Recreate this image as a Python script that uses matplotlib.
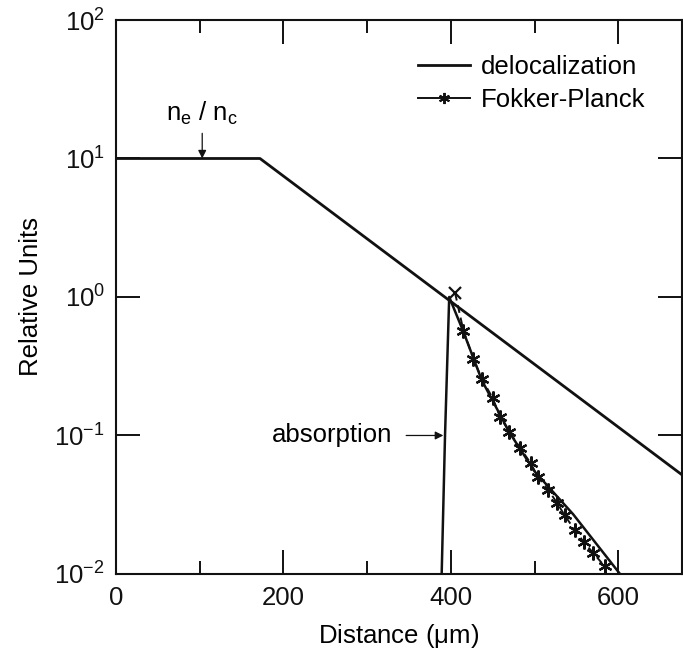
import numpy as np
import matplotlib

matplotlib.use("Agg")
import matplotlib.pyplot as plt
from matplotlib.lines import Line2D
from matplotlib.ticker import FixedLocator, NullLocator, LogFormatterSciNotation

plt.rcParams.update({
    "font.family": ["Liberation Sans", "DejaVu Sans"],
    "font.size": 18.5,
    "mathtext.fontset": "custom",
    "mathtext.rm": "Liberation Sans",
    "mathtext.it": "Liberation Sans:italic",
    "mathtext.default": "regular",
})

INK = "#111111"

# delocalization: flat n_e/n_c then exponential fall-off
deloc_x = [0, 172, 676]
deloc_y = [10.0, 10.0, 0.052]

# absorption profile (solid): sharp rise at the critical surface, then decay
absorb_x = [389, 393, 398, 415, 437, 470, 500, 546, 602]
absorb_y = [0.01, 0.1, 1.0, 0.56, 0.25, 0.105, 0.055, 0.027, 0.01]

# Fokker-Planck points
fp_x = [405, 415, 427, 437, 450, 459, 470, 483, 495.5, 504, 516.5, 526.5,
        535.7, 547.7, 558.4, 570.3, 583.5]
fp_y = [1.07, 0.571, 0.356, 0.256, 0.186, 0.135, 0.106, 0.0807, 0.0629,
        0.0499, 0.0404, 0.0327, 0.0267, 0.0208, 0.0171, 0.0141, 0.0114]

x_major = [0, 200, 400, 600]
x_minor = [100, 300, 500]
y_major = [1e-2, 1e-1, 1e0, 1e1, 1e2]

star = (6, 2, 0)

fig = plt.figure(figsize=(6.83, 6.58), dpi=100)
ax = fig.add_axes([0.1698, 0.1277, 0.9985 - 0.1698, 0.9696 - 0.1277])

ax.plot(deloc_x, deloc_y, color=INK, lw=2.0)
ax.plot(absorb_x, absorb_y, color=INK, lw=1.8)
ax.plot(fp_x, fp_y, color=INK, lw=1.4, ls=(0, (4, 2.5)))
ax.plot(fp_x[1:], fp_y[1:], ls="none", marker=star, ms=10, mew=1.6, color=INK)
ax.plot(fp_x[:1], fp_y[:1], ls="none", marker="x", ms=8, mew=1.6, color=INK)

ax.set_yscale("log")
ax.set_xlim(0, 676)
ax.set_ylim(1e-2, 1e2)

ax.xaxis.set_major_locator(FixedLocator(x_major))
ax.xaxis.set_minor_locator(FixedLocator(x_minor))
ax.yaxis.set_major_locator(FixedLocator(y_major))
ax.yaxis.set_minor_locator(NullLocator())
ax.yaxis.set_major_formatter(LogFormatterSciNotation())

ax.tick_params(which="both", direction="in", top=True, right=True,
               colors=INK, width=1.4)
ax.tick_params(axis="x", which="major", length=17, pad=9)
ax.tick_params(axis="x", which="minor", length=9.5)
ax.tick_params(axis="y", which="major", length=17, pad=8)
for s in ax.spines.values():
    s.set_linewidth(1.5)
    s.set_color(INK)

ax.set_xlabel("Distance ($\\mu$m)", labelpad=8)
ax.set_ylabel("Relative Units", labelpad=8)

# annotations
ax.text(103, 21, "n$_e$ / n$_c$", ha="center", va="center")
ax.annotate("", xy=(103, 10.0), xytext=(103, 15.2),
            arrowprops=dict(arrowstyle="-|>", color=INK, lw=0.9,
                            mutation_scale=12, shrinkA=0, shrinkB=0))
ax.annotate("absorption", xy=(391, 0.1), xytext=(330, 0.1), ha="right",
            va="center", arrowprops=dict(arrowstyle="-|>", color=INK, lw=0.9,
                                          mutation_scale=12, shrinkA=8, shrinkB=0))

handles = [
    Line2D([], [], color=INK, lw=2.0),
    Line2D([], [], color=INK, lw=1.4, marker=star, ms=8, mew=1.4),
]
ax.legend(handles, ["delocalization", "Fokker-Planck"], loc="upper left",
          bbox_to_anchor=(0.534, 0.937), frameon=False, borderpad=0,
          borderaxespad=0, handlelength=2.0, handletextpad=0.45,
          labelspacing=0.36, fontsize=18.5)

fig.savefig("out.png", dpi=100)
